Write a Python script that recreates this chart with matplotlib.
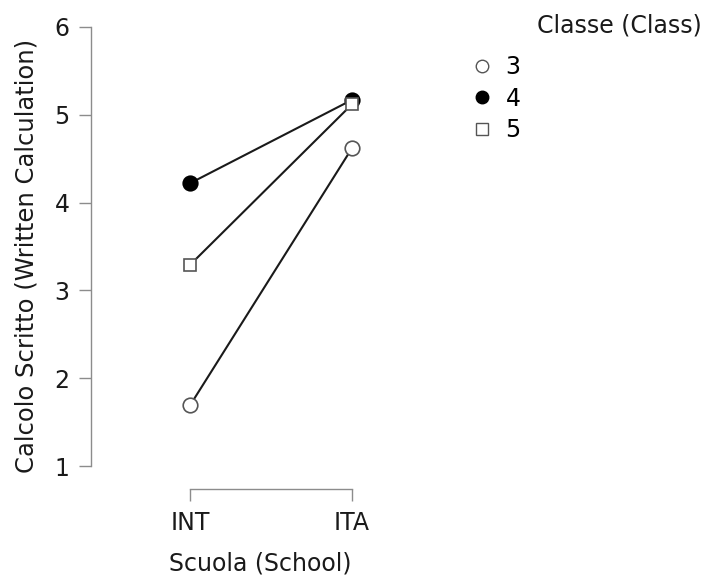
import matplotlib
matplotlib.use('Agg')
import matplotlib.pyplot as plt
from matplotlib.lines import Line2D

# data
schools = ['INT', 'ITA']
classes = ['3', '4', '5']
means = {
    '3': [1.69, 4.62],
    '4': [4.22, 5.17],
    '5': [3.29, 5.12],
}
y_ticks = [1, 2, 3, 4, 5, 6]

styles = {
    '3': dict(marker='o', mfc='white', mec='#555555'),
    '4': dict(marker='o', mfc='black', mec='black'),
    '5': dict(marker='s', mfc='white', mec='#555555'),
}

plt.rcParams['font.family'] = ['DejaVu Sans']
fig = plt.figure(figsize=(7.01, 5.78), dpi=100)
W, H = 701, 578
ax = fig.add_axes([91 / W, (H - 489) / H, (430 - 91) / W, (489 - 22) / H])

x = list(range(len(schools)))
for c in classes:
    st = styles[c]
    ax.plot(x, means[c], color='#1a1a1a', lw=1.5, marker=st['marker'],
            markerfacecolor=st['mfc'], markeredgecolor=st['mec'],
            markeredgewidth=1.2, markersize=10.5 if st['marker'] == 'o' else 9,
            zorder=3, clip_on=False)

ppu = 162.0
ax.set_xlim(-(190 - 91) / ppu, (430 - 190) / ppu)
ax.set_ylim(1 - 23 / 87.8, 6 + 5 / 87.8)

for s in ['top', 'right']:
    ax.spines[s].set_visible(False)
ax.spines['left'].set_bounds(1, 6)
ax.spines['bottom'].set_bounds(0, 1)
for s in ['left', 'bottom']:
    ax.spines[s].set_color('#8c8c8c')
    ax.spines[s].set_linewidth(1.0)

ax.set_yticks(y_ticks)
ax.set_xticks(x)
ax.set_xticklabels(schools)
ax.tick_params(axis='both', colors='#8c8c8c', labelcolor='#1a1a1a',
               labelsize=17, length=8.5, width=1.0, pad=7)

ax.set_ylabel('Calcolo Scritto (Written Calculation)', fontsize=17.5,
              color='#1a1a1a', labelpad=11)
ax.set_xlabel('Scuola (School)', fontsize=17, color='#1a1a1a', labelpad=12)

handles = []
for c in classes:
    st = styles[c]
    handles.append(Line2D([], [], ls='none', marker=st['marker'],
                          markerfacecolor=st['mfc'], markeredgecolor=st['mec'],
                          markeredgewidth=1.0,
                          markersize=9 if st['marker'] == 'o' else 8, label=c))
fig.text(537 / W, 1 - 25 / H, 'Classe (Class)', fontsize=17, color='#1a1a1a',
         va='center', ha='left')
fig.legend(handles=handles, loc='upper left', bbox_to_anchor=(470 / W, 1 - 55 / H),
           frameon=False, fontsize=17, handlelength=1.0, handletextpad=0.5,
           labelspacing=0.32, borderpad=0, borderaxespad=0)

fig.savefig('out.png', dpi=100)
